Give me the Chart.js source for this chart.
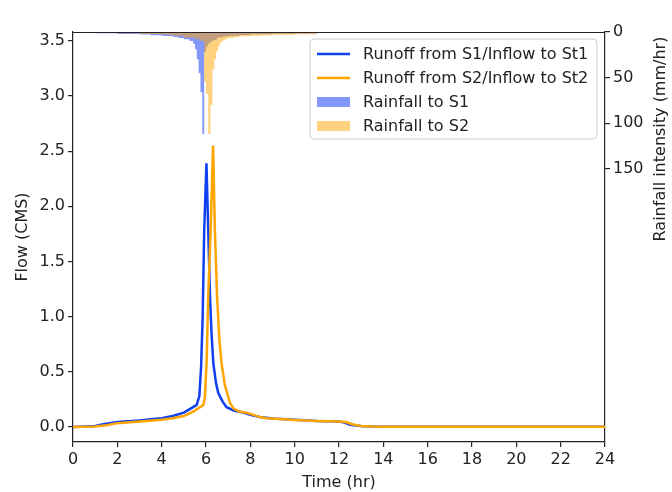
<!DOCTYPE html>
<html><head><meta charset="utf-8">
<script src="https://cdn.jsdelivr.net/npm/chart.js@4.4.1/dist/chart.umd.min.js"></script>
<style>html,body{margin:0;padding:0;background:#fff;} #wrap{width:672px;height:492px;} canvas{display:block;}</style>
</head><body>
<div id="wrap"><canvas id="c" width="672" height="492"></canvas></div>
<script>
// ---- data ----
const timeTicks = [0, 2, 4, 6, 8, 10, 12, 14, 16, 18, 20, 22, 24];
const flowTicks = [0.0, 0.5, 1.0, 1.5, 2.0, 2.5, 3.0, 3.5];
const rainTicks = [0, 50, 100, 150];

const seriesLabels = ["Runoff from S1/Inflow to St1", "Runoff from S2/Inflow to St2", "Rainfall to S1", "Rainfall to S2"];

// Runoff S1 (hr, CMS)
const flowTime1 = [0, 0.5, 1.0, 1.25, 1.5, 2.0, 2.5, 3.0, 3.5, 4.0, 4.5, 5.0, 5.25, 5.58, 5.7, 5.78, 5.85, 5.92, 6.02, 6.1, 6.18, 6.25, 6.33, 6.45, 6.55, 6.75, 6.93, 7.25, 7.68, 8.0, 8.43, 9.0, 10.0, 11.0, 12.0, 12.25, 12.5, 13.0, 13.5, 14.0, 24.0];
const flow1 = [0.0, 0.005, 0.01, 0.02, 0.03, 0.045, 0.052, 0.06, 0.07, 0.08, 0.1, 0.13, 0.16, 0.2, 0.28, 0.55, 1.0, 1.79, 2.39, 1.79, 1.18, 0.85, 0.58, 0.4, 0.31, 0.23, 0.18, 0.15, 0.13, 0.11, 0.09, 0.078, 0.065, 0.055, 0.05, 0.04, 0.02, 0.008, 0.004, 0.003, 0.002];

// Runoff S2 (hr, CMS)
const flowTime2 = [0, 1.0, 1.5, 2.0, 3.0, 4.0, 4.5, 5.0, 5.43, 5.73, 5.88, 5.95, 6.03, 6.1, 6.21, 6.32, 6.4, 6.5, 6.6, 6.7, 6.85, 7.08, 7.23, 7.5, 7.83, 8.43, 8.73, 9.5, 10.0, 11.0, 12.0, 12.3, 12.6, 13.0, 13.5, 14.0, 24.0];
const flow2 = [0.0, 0.005, 0.015, 0.035, 0.05, 0.065, 0.08, 0.1, 0.14, 0.18, 0.2, 0.27, 0.6, 1.18, 1.79, 2.55, 1.79, 1.18, 0.8, 0.58, 0.38, 0.22, 0.17, 0.14, 0.13, 0.09, 0.08, 0.07, 0.063, 0.055, 0.05, 0.045, 0.025, 0.01, 0.005, 0.003, 0.002];

// Rainfall S1 (interval start hr, mm/hr)
const rainTime1 = [0, 1, 2, 3, 3.5, 4, 4.5, 4.75, 5.0, 5.25, 5.417, 5.5, 5.583, 5.667, 5.75, 5.833, 5.917, 6.0, 6.083, 6.167, 6.25, 6.333, 6.5, 6.75, 7.0, 7.5, 8.0, 9.0, 10.0, 11.0, 12.0];
const rain1 = [0.8, 1.0, 1.5, 2.2, 2.8, 3.5, 4.5, 5.5, 6.5, 8, 10, 13, 19, 30, 45, 66, 112, 22, 16, 13, 11, 10, 8.5, 6, 5, 4, 3.2, 2.5, 2, 1.6, 0];

// Rainfall S2 (interval start hr, mm/hr)
const rainTime2 = [0, 1, 2, 3, 4, 4.5, 5.0, 5.5, 5.75, 5.917, 6.0, 6.1, 6.2, 6.29, 6.375, 6.458, 6.542, 6.625, 6.708, 6.792, 6.875, 7.0, 7.25, 7.5, 8.0, 8.5, 9.0, 10.0, 11.0, 12.0];
const rain2 = [0.5, 0.7, 1.0, 1.5, 2.2, 3, 4, 6, 8, 10, 55, 68, 112, 80, 41, 30, 21, 16, 12, 10, 9, 7.5, 6.5, 5.5, 4.7, 4, 3.5, 3, 2.5, 0];

// ---- styles ----
const FONT = '"DejaVu Sans", "Liberation Sans", sans-serif';
const C_BLUE = '#1040f0';
const C_ORANGE = '#ffa500';
const C_BLUE_FILL = 'rgba(10,50,250,0.5)';
const C_ORANGE_FILL = 'rgba(255,165,0,0.5)';
const AX = '#222';

function pts(xs, ys) { return xs.map((x, i) => ({ x: x, y: ys[i] })); }

const frame = {
  id: 'frame',
  afterDatasetsDraw(chart) {
    const { ctx, chartArea: a } = chart;
    ctx.save();
    ctx.strokeStyle = AX;
    ctx.lineWidth = 1.2;
    ctx.beginPath();
    ctx.moveTo(a.left, a.top + 0.5);
    ctx.lineTo(a.right, a.top + 0.5);
    ctx.stroke();
    ctx.restore();
  },
  afterDraw(chart) {
    const { ctx } = chart;
    // right axis title
    ctx.save();
    ctx.fillStyle = AX;
    ctx.font = '16px ' + FONT;
    ctx.translate(661, 139);
    ctx.rotate(-Math.PI / 2);
    ctx.textAlign = 'center';
    ctx.textBaseline = 'middle';
    ctx.fillText('Rainfall intensity (mm/hr)', 0, 0);
    ctx.restore();

    // legend
    const bx = 310, by = 39, bw = 287, bh = 100, r = 4;
    ctx.save();
    ctx.beginPath();
    ctx.moveTo(bx + r, by);
    ctx.lineTo(bx + bw - r, by);
    ctx.quadraticCurveTo(bx + bw, by, bx + bw, by + r);
    ctx.lineTo(bx + bw, by + bh - r);
    ctx.quadraticCurveTo(bx + bw, by + bh, bx + bw - r, by + bh);
    ctx.lineTo(bx + r, by + bh);
    ctx.quadraticCurveTo(bx, by + bh, bx, by + bh - r);
    ctx.lineTo(bx, by + r);
    ctx.quadraticCurveTo(bx, by, bx + r, by);
    ctx.closePath();
    ctx.fillStyle = 'rgba(255,255,255,0.8)';
    ctx.fill();
    ctx.strokeStyle = '#cccccc';
    ctx.lineWidth = 1;
    ctx.stroke();
    const styles = [
      { type: 'line', c: C_BLUE },
      { type: 'line', c: C_ORANGE },
      { type: 'patch', c: C_BLUE_FILL },
      { type: 'patch', c: C_ORANGE_FILL }
    ];
    ctx.font = '16px ' + FONT;
    ctx.textBaseline = 'middle';
    ctx.textAlign = 'left';
    styles.forEach((s, i) => {
      const y = 54 + i * 24;
      if (s.type === 'line') {
        ctx.strokeStyle = s.c;
        ctx.lineWidth = 2.5;
        ctx.beginPath();
        ctx.moveTo(317, y);
        ctx.lineTo(350, y);
        ctx.stroke();
      } else {
        ctx.fillStyle = s.c;
        ctx.fillRect(317, y - 5, 33, 10);
      }
      ctx.fillStyle = AX;
      ctx.fillText(seriesLabels[i], 363, y + 1);
    });
    ctx.restore();
  }
};

new Chart(document.getElementById('c'), {
  type: 'line',
  data: {
    datasets: [
      { label: seriesLabels[0], data: pts(flowTime1, flow1), borderColor: C_BLUE, borderWidth: 2.5, pointRadius: 0, tension: 0, fill: false, yAxisID: 'y', order: 1 },
      { label: seriesLabels[1], data: pts(flowTime2, flow2), borderColor: C_ORANGE, borderWidth: 2.5, pointRadius: 0, tension: 0, fill: false, yAxisID: 'y', order: 0 },
      { label: seriesLabels[2], data: pts(rainTime1, rain1), borderWidth: 0, borderColor: 'rgba(0,0,0,0)', backgroundColor: C_BLUE_FILL, pointRadius: 0, stepped: 'after', fill: 'origin', yAxisID: 'y2', order: 3 },
      { label: seriesLabels[3], data: pts(rainTime2, rain2), borderWidth: 0, borderColor: 'rgba(0,0,0,0)', backgroundColor: C_ORANGE_FILL, pointRadius: 0, stepped: 'after', fill: 'origin', yAxisID: 'y2', order: 2 }
    ]
  },
  options: {
    responsive: false,
    animation: false,
    devicePixelRatio: 1,
    layout: { padding: { top: 32, left: 0, right: 0, bottom: 0 } },
    plugins: { legend: { display: false }, tooltip: { enabled: false } },
    scales: {
      x: {
        type: 'linear', min: 0, max: 24,
        afterBuildTicks: s => { s.ticks = timeTicks.map(v => ({ value: v })); },
        afterFit: s => { s.height = 50; },
        grid: { display: true, drawOnChartArea: false, drawTicks: true, tickLength: 5, color: AX, lineWidth: 1.2 },
        border: { display: true, color: AX, width: 1.2 },
        ticks: { color: AX, font: { family: FONT, size: 16 }, padding: 3, maxRotation: 0, autoSkip: false },
        title: { display: true, text: 'Time (hr)', color: AX, font: { family: FONT, size: 16 }, padding: { top: 0, bottom: 0 } }
      },
      y: {
        type: 'linear', position: 'left', min: -0.136, max: 3.58,
        afterBuildTicks: s => { s.ticks = flowTicks.map(v => ({ value: v })); },
        afterFit: s => { s.width = 73; },
        grid: { display: true, drawOnChartArea: false, drawTicks: true, tickLength: 5, color: AX, lineWidth: 1.2 },
        border: { display: true, color: AX, width: 1.2 },
        ticks: { color: AX, font: { family: FONT, size: 16 }, padding: 3, autoSkip: false, callback: v => v.toFixed(1) },
        title: { display: true, text: 'Flow (CMS)', color: AX, font: { family: FONT, size: 16 }, padding: { top: 13, bottom: 0 } }
      },
      y2: {
        type: 'linear', position: 'right', reverse: true, min: 0, max: 450,
        afterBuildTicks: s => { s.ticks = rainTicks.map(v => ({ value: v })); },
        afterFit: s => { s.width = 67; },
        grid: { display: true, drawOnChartArea: false, drawTicks: true, tickLength: 5, color: AX, lineWidth: 1.2 },
        border: { display: true, color: AX, width: 1.2 },
        ticks: { color: AX, font: { family: FONT, size: 16 }, padding: 3, autoSkip: false, callback: v => String(v) }
      }
    }
  },
  plugins: [frame]
});
</script>
</body></html>
